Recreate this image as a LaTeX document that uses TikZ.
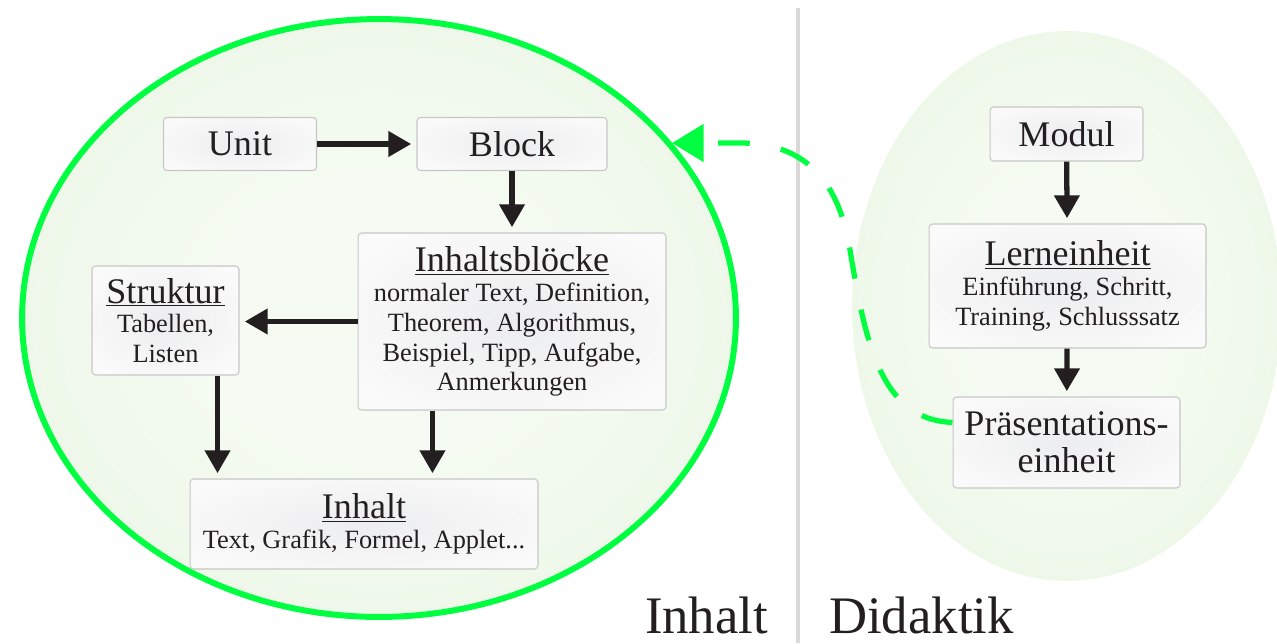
\documentclass[tikz,border=0pt]{standalone}
\usepackage{fontspec}
\setmainfont{Liberation Serif}
\usetikzlibrary{arrows.meta}
\definecolor{linkgreen}{RGB}{0,255,64}
\definecolor{ink}{RGB}{35,31,32}
\definecolor{sepgray}{RGB}{217,217,217}
\definecolor{fieldin}{RGB}{245,251,242}
\definecolor{fieldout}{RGB}{225,243,216}
\definecolor{boxin}{RGB}{250,250,250}
\definecolor{boxout}{RGB}{236,237,238}
\pgfdeclareradialshading{field}{\pgfpoint{0bp}{0bp}}{color(0bp)=(fieldin);
 color(12bp)=(fieldin); color(50bp)=(fieldout); color(100bp)=(fieldout)}
\pgfdeclareradialshading{boxshade}{\pgfpoint{0bp}{0bp}}{color(0bp)=(boxout);
 color(30bp)=(boxin); color(50bp)=(boxin); color(100bp)=(boxin)}
\newcommand{\bigtxt}{\fontsize{20.5}{21}\selectfont}
\newcommand{\smalltxt}{\fontsize{15}{17}\selectfont}
\newcommand{\labeltxt}{\fontsize{30}{32}\selectfont}

\begin{document}
\begin{tikzpicture}[x=0.02cm,y=-0.02cm,
  box/.style={rectangle,rounded corners=2pt,draw=black!22,line width=0.6pt,
    shading=boxshade,text=ink,align=center,inner sep=2pt},
  flow/.style={ink,line width=3pt,shorten >=3pt,-{Triangle[width=14pt,length=13pt]}},
  link/.style={linkgreen,line width=3pt,dash pattern=on 18pt off 18pt,
    -{Triangle[width=21pt,length=18pt]}}]
\useasboundingbox (0,0) rectangle (1277,643);
\draw[sepgray,line width=2.3pt] (798,8) -- (798,643);
\draw[linkgreen,line width=3.4pt,shading=field]
 (379,318) ellipse [x radius=7.14cm,y radius=5.98cm];
\shade[shading=field] (1067,306) ellipse [x radius=4.3cm,y radius=5.5cm];

\node[box,font=\bigtxt,minimum width=3.06cm,minimum height=1.06cm] (unit) at (240,144) {Unit};
\node[box,font=\bigtxt,minimum width=3.8cm,minimum height=1.06cm] (block) at (512,144) {Block};
\node[box,font=\smalltxt,minimum width=6.16cm,minimum height=3.54cm] (ib) at (512,321.5)
 {{\bigtxt\underline{Inhaltsblöcke}}\\ normaler Text, Definition,\\ Theorem, Algorithmus,\\
  Beispiel, Tipp, Aufgabe,\\ Anmerkungen};
\node[box,font=\smalltxt,minimum width=2.94cm,minimum height=2.18cm] (struk) at (165.5,320.5)
 {{\bigtxt\underline{Struktur}}\\ Tabellen,\\ Listen};
\node[box,font=\smalltxt,minimum width=6.96cm,minimum height=1.8cm] (inhalt) at (364,524)
 {{\bigtxt\underline{Inhalt}}\\ Text, Grafik, Formel, Applet...};
\node[box,font=\bigtxt,minimum width=3.06cm,minimum height=1.08cm] (modul) at (1066.5,134) {Modul};
\node[box,font=\smalltxt,minimum width=5.54cm,minimum height=2.48cm] (lern) at (1067.5,286)
 {{\bigtxt\underline{Lerneinheit}}\\ Einführung, Schritt,\\ Training, Schlusssatz};
\node[box,font=\bigtxt,minimum width=4.54cm,minimum height=1.82cm] (pres) at (1066.5,442.5)
 {Präsentations-\\ einheit};

\node[font=\labeltxt,text=ink,anchor=base] (linhalt) at (706.5,633) {Inhalt};
\node[font=\labeltxt,text=ink,anchor=base] (ldidaktik) at (921.5,633) {Didaktik};

\coordinate (s1) at ([xshift=-0.44cm]struk.south east);
\coordinate (s2) at ([xshift=1.5cm]ib.south west);
\coordinate (tip) at (672,143);

\draw[flow] (unit) -- (block);
\draw[flow] (block) -- (ib);
\draw[flow] (ib.west) -- (ib.west -| struk.east);
\draw[flow] (s1) -- (s1 |- inhalt.north);
\draw[flow] (s2) -- (s2 |- inhalt.north);
\draw[flow] (modul) -- (lern);
\draw[flow] (lern) -- (pres);
\draw[link] (pres.170) .. controls (880,420) and (865,340) .. (850,250)
 .. controls (838,175) and (800,143) .. (740,143) -- (tip);
\end{tikzpicture}
\end{document}
